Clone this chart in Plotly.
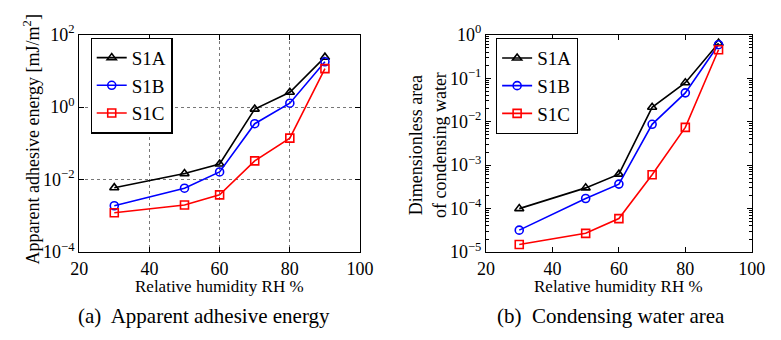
import plotly.graph_objects as go

rh = [30, 50, 60, 70, 80, 90]
series_names = ["S1A", "S1B", "S1C"]

# (a) Apparent adhesive energy [mJ/m^2]
energy_s1a = [0.0060, 0.0147, 0.027, 0.885, 2.58, 24.0]
energy_s1b = [0.0019, 0.0058, 0.0163, 0.35, 1.29, 17.9]
energy_s1c = [0.00122, 0.0020, 0.0038, 0.033, 0.14, 11.6]

# (b) Dimensionless area of condensing water
area_s1a = [1.0e-4, 3.0e-4, 6.2e-4, 0.0214, 0.0785, 0.64]
area_s1b = [3.2e-5, 1.71e-4, 3.66e-4, 0.0087, 0.046, 0.59]
area_s1c = [1.5e-5, 2.7e-5, 5.9e-5, 6.0e-4, 0.0074, 0.45]

x_ticks = [20, 40, 60, 80, 100]
left_yticks = [1e-4, 1e-2, 1e0, 1e2]
left_ytext = ["10<sup>−4</sup>", "10<sup>−2</sup>", "10<sup>0</sup>", "10<sup>2</sup>"]
right_yticks = [1e-5, 1e-4, 1e-3, 1e-2, 1e-1, 1e0]
right_ytext = ["10<sup>−5</sup>", "10<sup>−4</sup>", "10<sup>−3</sup>", "10<sup>−2</sup>",
               "10<sup>−1</sup>", "10<sup>0</sup>"]
right_minor = [m * 10.0 ** e for e in range(-5, 0) for m in range(2, 10)]

colors = ["#000000", "#0000ff", "#ff0000"]
symbols = ["triangle-up-open", "circle-open", "square-open"]

FONT = "Times New Roman, Liberation Serif, DejaVu Serif, serif"
W, H = 781, 340

fig = go.Figure()

left_data = [energy_s1a, energy_s1b, energy_s1c]
right_data = [area_s1a, area_s1b, area_s1c]

for name, ys, c, s in zip(series_names, left_data, colors, symbols):
    fig.add_trace(go.Scatter(x=rh, y=ys, name=name, mode="lines+markers",
                             line=dict(color=c, width=1.6),
                             marker=dict(symbol=s, size=8, color=c, line=dict(width=1.6, color=c)),
                             xaxis="x", yaxis="y", legend="legend"))
for name, ys, c, s in zip(series_names, right_data, colors, symbols):
    fig.add_trace(go.Scatter(x=rh, y=ys, name=name, mode="lines+markers",
                             line=dict(color=c, width=1.6),
                             marker=dict(symbol=s, size=8, color=c, line=dict(width=1.6, color=c)),
                             xaxis="x2", yaxis="y2", legend="legend2"))

ytop = 1 - 24.3 / H
ybot = 1 - 256.7 / H

axis_common = dict(showline=True, linecolor="black", linewidth=1.2, mirror="ticks",
                   ticks="inside", ticklen=5, tickcolor="black", zeroline=False,
                   tickfont=dict(family=FONT, size=18, color="black"))

fig.update_layout(
    width=W, height=H, margin=dict(l=0, r=0, t=0, b=0),
    paper_bgcolor="white", plot_bgcolor="white",
    font=dict(family=FONT, color="black"),
    xaxis=dict(domain=[72.3 / W, 361.7 / W], range=[20, 100], tickvals=x_ticks,
               showgrid=True, gridcolor="#777777", griddash="dot", gridwidth=1,
               anchor="y", **axis_common),
    yaxis=dict(domain=[ybot, ytop], type="log", range=[-4, 2], tickvals=left_yticks,
               ticktext=left_ytext, showgrid=True, gridcolor="#777777", griddash="dot",
               gridwidth=1, anchor="x", **axis_common),
    xaxis2=dict(domain=[491.5 / W, 765.3 / W], range=[20, 100], tickvals=x_ticks,
                showgrid=False, anchor="y2", **axis_common),
    yaxis2=dict(domain=[ybot, ytop], type="log", range=[-5, 0], tickvals=right_yticks,
                ticktext=right_ytext, showgrid=False, anchor="x2",
                minor=dict(tickvals=right_minor, ticks="inside", ticklen=2.5, tickcolor="black",
                           showgrid=False),
                **axis_common),
    legend=dict(x=84 / W, y=1 - 27.3 / H, xanchor="left", yanchor="top",
                bordercolor="black", borderwidth=1.2, bgcolor="white",
                font=dict(family=FONT, size=19, color="black"), itemwidth=30,
                tracegroupgap=0),
    legend2=dict(x=501.7 / W, y=1 - 27.7 / H, xanchor="left", yanchor="top",
                 bordercolor="black", borderwidth=1.2, bgcolor="white",
                 font=dict(family=FONT, size=19, color="black"), itemwidth=30,
                 tracegroupgap=0),
    showlegend=True,
)

def ann(text, xpx, ypx, size=18, angle=0):
    return dict(text=text, x=xpx / W, y=1 - ypx / H, xref="paper", yref="paper",
                xanchor="center", yanchor="middle", showarrow=False, textangle=angle,
                font=dict(family=FONT, size=size, color="black"))

annotations = [
    ann("Relative humidity RH %", 217, 294, size=17),
    ann("Relative humidity RH %", 628, 294, size=17),
    ann("Apparent adhesive energy [mJ/m<sup>2</sup>]", 23, 136, angle=-90),
    ann("Dimensionless area<br>of condensing water", 432, 142, angle=-90),
    ann("(a)  Apparent adhesive energy", 201, 325, size=21),
    ann("(b)  Condensing water area", 620, 325, size=21),
]
fig.update_layout(annotations=annotations)

fig.write_html("out.html")
